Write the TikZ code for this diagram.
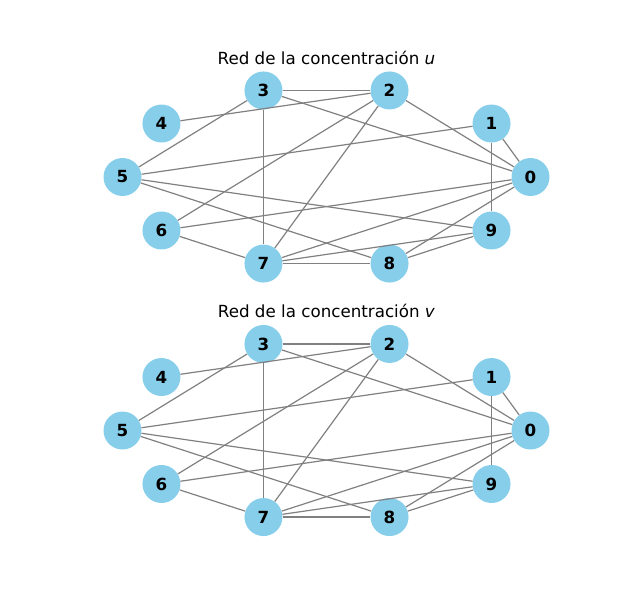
\documentclass[tikz,border=0pt]{standalone}
\usepackage{fontspec}
\setmainfont{DejaVu Sans}
\definecolor{skyblue}{HTML}{87CEEB}
\definecolor{edgegray}{RGB}{128,128,128}
\tikzset{
  vtx/.style={circle, fill=skyblue, minimum size=38pt, inner sep=0pt,
    font=\fontsize{16.7}{20}\selectfont\bfseries},
  lnk/.style={draw=edgegray, line width=1.2pt},
  ttl/.style={anchor=base, inner sep=0pt, font=\fontsize{16.7}{20}\selectfont}
}
\begin{document}
\begin{tikzpicture}[x=1pt,y=-1pt]
\useasboundingbox (0,0) rectangle (637,603);
\foreach \g/\oy/\var in {a/0/u, b/253.5/v}{
  \node[ttl] (t\g) at (326.5,\oy+64) {Red de la concentración \textit{\var}};
  \foreach \i in {0,...,9}{
    \node[vtx] (\g\i) at ({326.5+204*cos(36*\i)},{\oy+177-91*sin(36*\i)}) {\i};
  }
  \foreach \s/\e in {3/2,3/0,2/0,4/2,3/5,2/6,2/7,3/7,1/5,1/0,1/9,5/9,5/8,6/0,6/7,7/8,7/9,7/0,8/0,8/9}{
    \draw[lnk] (\g\s) -- (\g\e);
  }
}
\end{tikzpicture}
\end{document}
